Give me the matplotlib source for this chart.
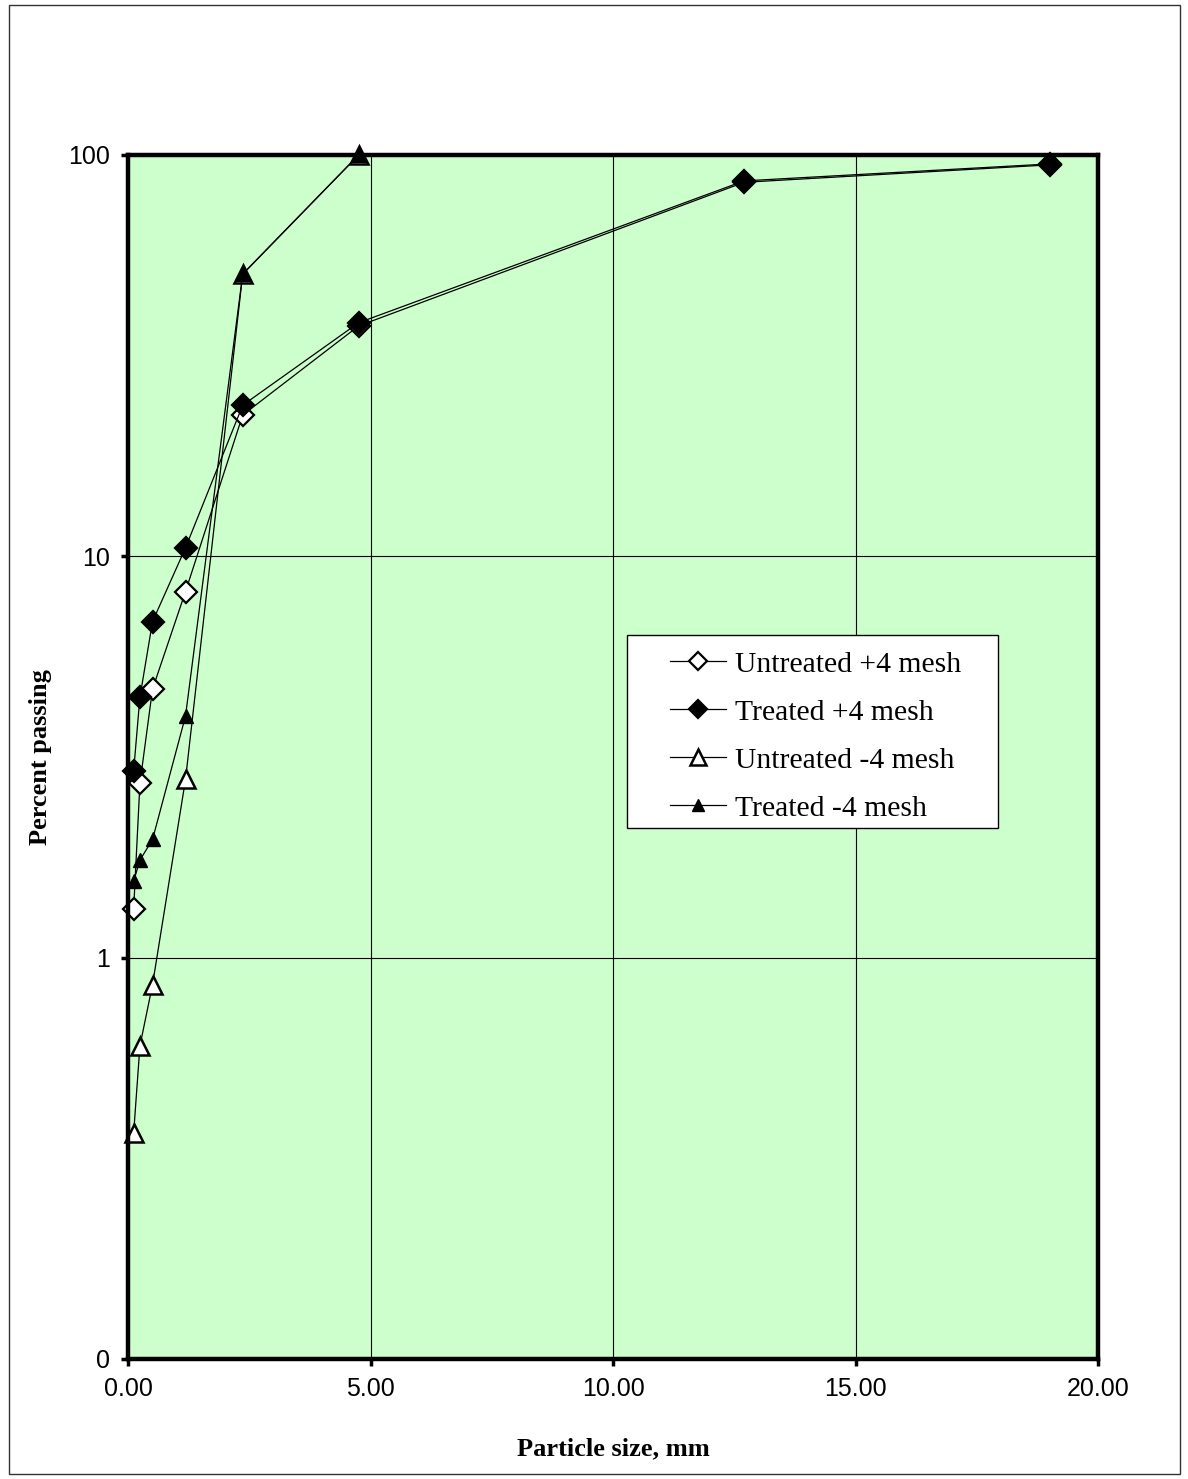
import matplotlib
matplotlib.use("Agg")
import matplotlib.pyplot as plt
from matplotlib.patches import Rectangle
from matplotlib.ticker import FixedLocator, FixedFormatter

# Sieve openings (mm) and cumulative percent passing
size_plus4 = [19.0, 12.7, 4.75, 2.36, 1.18, 0.5, 0.24, 0.11]
untreated_plus4 = [94.5, 85.5, 37.5, 22.5, 8.17, 4.67, 2.72, 1.32]
treated_plus4 = [95.0, 86.2, 38.2, 23.8, 10.5, 6.88, 4.46, 2.92]

size_minus4 = [4.75, 2.36, 1.18, 0.5, 0.24, 0.11]
untreated_minus4 = [100.0, 50.5, 2.78, 0.857, 0.603, 0.365]
treated_minus4 = [100.0, 50.5, 4.0, 1.97, 1.75, 1.55]

series_labels = ["Untreated +4 mesh", "Treated +4 mesh",
                 "Untreated -4 mesh", "Treated -4 mesh"]
x_ticks = [0, 5, 10, 15, 20]
x_tick_labels = ["0.00", "5.00", "10.00", "15.00", "20.00"]
y_ticks = [0.1, 1, 10, 100]
y_tick_labels = ["0", "1", "10", "100"]

W, H = 1188, 1479
fig = plt.figure(figsize=(W / 100, H / 100), dpi=100)
fig.patch.set_facecolor("white")

# thin frame around the whole chart
fig.add_artist(Rectangle((9 / W, 1 - 1474 / H), (1180 - 9) / W, (1474 - 5) / H,
                         transform=fig.transFigure, fill=False,
                         edgecolor="#333333", linewidth=1.0))

left, right, top, bottom = 128.3, 1098, 155, 1359
ax = fig.add_axes([left / W, 1 - bottom / H, (right - left) / W, (bottom - top) / H])
ax.set_facecolor("#CCFFCC")
ax.set_yscale("log")
ax.set_xlim(0, 20)
ax.set_ylim(0.1, 100)

ax.xaxis.set_major_locator(FixedLocator(x_ticks))
ax.xaxis.set_major_formatter(FixedFormatter(x_tick_labels))
ax.yaxis.set_major_locator(FixedLocator(y_ticks))
ax.yaxis.set_major_formatter(FixedFormatter(y_tick_labels))
ax.yaxis.set_minor_locator(FixedLocator([]))
ax.grid(True, which="major", color="black", linewidth=0.8)
ax.set_axisbelow(True)

for sp in ax.spines.values():
    sp.set_linewidth(3.2)
    sp.set_color("black")

ax.tick_params(axis="both", which="major", direction="out", length=5, width=2.5,
               labelsize=18, pad=8, colors="black")
for lab in ax.get_xticklabels() + ax.get_yticklabels():
    lab.set_fontfamily("Liberation Sans")

lw = 0.9
h1, = ax.plot(size_plus4, untreated_plus4, color="black", linewidth=lw,
              marker="D", markersize=11, markerfacecolor="white",
              markeredgecolor="black", markeredgewidth=1.6, clip_on=False,
              label=series_labels[0])
h2, = ax.plot(size_plus4, treated_plus4, color="black", linewidth=lw,
              marker="D", markersize=11, markerfacecolor="black",
              markeredgecolor="black", markeredgewidth=1.6, clip_on=False,
              label=series_labels[1])
h3, = ax.plot(size_minus4, untreated_minus4, color="black", linewidth=lw,
              marker="^", markersize=13, markerfacecolor="white",
              markeredgecolor="black", markeredgewidth=1.8, clip_on=False,
              label=series_labels[2])
h4, = ax.plot(size_minus4, treated_minus4, color="black", linewidth=lw,
              marker="^", markersize=9.5, markerfacecolor="black",
              markeredgecolor="black", markeredgewidth=1.0, clip_on=False,
              label=series_labels[3])

ax.set_xlabel("Particle size, mm", fontfamily="Liberation Serif",
              fontweight="bold", fontsize=19)
ax.set_ylabel("Percent passing", fontfamily="Liberation Serif",
              fontweight="bold", fontsize=19)
ax.xaxis.set_label_coords(0.5, (bottom - 1437) / (bottom - top))
ax.yaxis.set_label_coords((52 - left) / (right - left), 0.5)

# legend box
bx0, by0, bx1, by1 = 627.3, 635, 998.3, 828
fig.add_artist(Rectangle((bx0 / W, 1 - by1 / H), (bx1 - bx0) / W, (by1 - by0) / H,
                         transform=fig.transFigure, facecolor="white",
                         edgecolor="black", linewidth=1.0, zorder=5))

leg = fig.legend(handles=[h1, h2, h3, h4], labels=series_labels,
                 loc="upper left", bbox_to_anchor=(670 / W, 1 - 651 / H),
                 frameon=False, borderpad=0, borderaxespad=0,
                 handlelength=1.9, handletextpad=0.3, labelspacing=0.72,
                 prop={"family": "Liberation Serif", "size": 21.3},
                 markerscale=0.85)
leg.set_zorder(6)

fig.savefig("out.png", dpi=100, facecolor="white")
